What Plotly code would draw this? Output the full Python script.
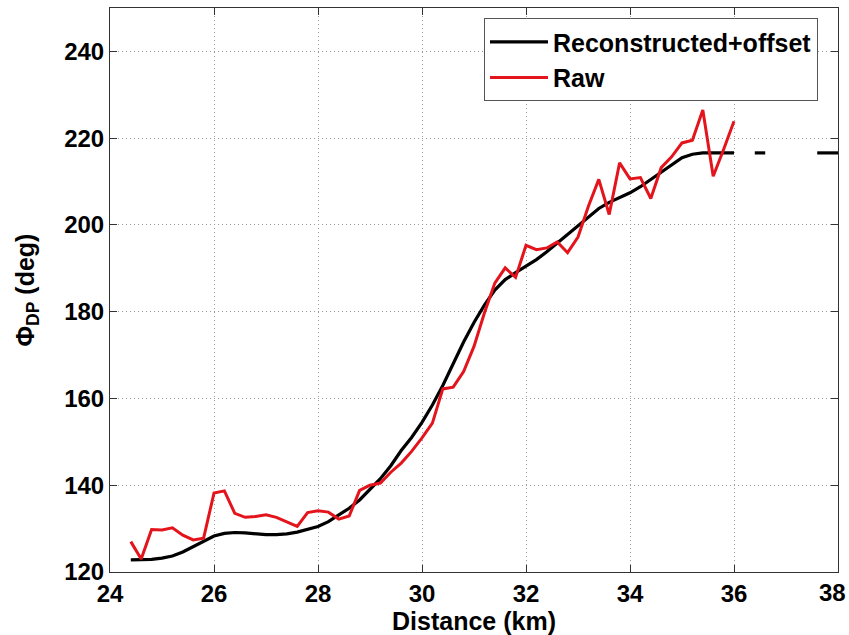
import numpy as np
import plotly.graph_objects as go

# Range samples every 0.2 km
distance_raw = [round(24.4 + 0.2 * i, 1) for i in range(59)]  # 24.4 .. 36.0
phidp_raw = [
    127.0, 123.0, 129.8, 129.7, 130.2, 128.5, 127.4, 127.8, 138.2, 138.7,
    133.5, 132.6, 132.8, 133.2, 132.6, 131.6, 130.5, 133.7, 134.1, 133.8,
    132.2, 132.9, 138.8, 140.0, 140.5, 143.0, 145.1, 147.8, 150.9, 154.3,
    162.2, 162.6, 166.2, 172.0, 179.7, 186.6, 190.1, 187.9, 195.3, 194.3,
    194.7, 196.1, 193.6, 197.2, 204.3, 210.5, 202.4, 214.3, 210.6, 210.9,
    206.1, 213.2, 215.7, 218.9, 219.5, 226.5, 211.2, 217.4, 223.9,
]

distance_rec = [round(24.4 + 0.2 * i, 1) for i in range(69)]  # 24.4 .. 38.0
phidp_rec = [
    122.8, 122.8, 122.9, 123.2, 123.7, 124.6, 125.9, 127.2, 128.3, 128.9,
    129.1, 129.0, 128.8, 128.6, 128.6, 128.8, 129.2, 129.8, 130.5, 131.6,
    133.2, 134.7, 136.6, 139.0, 141.5, 144.5, 148.0, 151.0, 154.5, 158.5,
    163.0, 168.0, 173.0, 177.5, 181.5, 185.0, 187.4, 189.0, 190.5, 192.0,
    193.8, 195.8, 197.8, 200.0, 202.0, 203.8, 205.2, 206.3, 207.4, 208.8,
    210.5, 212.3, 214.0, 215.5, 216.3, 216.6, 216.6, 216.6, 216.6, None,
    216.6, 216.6, None, None, None, None, 216.6, 216.6, 216.6,
]

x_ticks = [24, 26, 28, 30, 32, 34, 36, 38]
y_ticks = [120, 140, 160, 180, 200, 220, 240]

# the last x label sits on the page edge; it is drawn right-aligned separately
x_ticktext = [str(v) for v in x_ticks[:-1]] + [""]

FONT = "Liberation Sans, Arial, Helvetica, sans-serif"
TICK_FONT = dict(family=FONT, size=24, color="black", weight="bold")

fig = go.Figure()
fig.add_trace(go.Scatter(
    x=distance_rec, y=phidp_rec, mode="lines", name="Reconstructed+offset",
    line=dict(color="black", width=3.2), connectgaps=False,
))
fig.add_trace(go.Scatter(
    x=distance_raw, y=phidp_raw, mode="lines", name="Raw",
    line=dict(color="rgb(228,20,28)", width=3),
))

axis_common = dict(
    showline=True, linecolor="#333333", linewidth=1, mirror="ticks",
    ticks="inside", ticklen=7, tickwidth=1, tickcolor="#333333",
    showgrid=True, gridcolor="#9a9a9a", griddash="1px,3px", gridwidth=1,
    zeroline=False, automargin=False,
    tickfont=TICK_FONT,
)

fig.update_xaxes(
    range=[24, 38], tickvals=x_ticks, ticktext=x_ticktext,
    title=dict(text="Distance (km)", standoff=4,
               font=dict(family=FONT, size=25, color="black", weight="bold")),
    **axis_common,
)
fig.update_yaxes(
    range=[120, 250], tickvals=y_ticks, ticktext=[str(v) for v in y_ticks],
    title=dict(text="Φ<sub>DP</sub> (deg)", standoff=22,
               font=dict(family=FONT, size=25, color="black", weight="bold")),
    **axis_common,
)

fig.add_annotation(
    x=x_ticks[-1], xref="x", y=0, yref="paper",
    text=str(x_ticks[-1]), showarrow=False,
    xanchor="right", yanchor="middle", xshift=10, yshift=-20,
    font=TICK_FONT,
)

fig.update_layout(
    width=849, height=635,
    margin=dict(l=110, r=11, t=8, b=63),
    paper_bgcolor="white", plot_bgcolor="white",
    font=dict(family=FONT, color="black"),
    legend=dict(
        x=0.9725, y=0.982, xanchor="right", yanchor="top",
        bgcolor="white", bordercolor="#555555", borderwidth=1,
        font=dict(family=FONT, size=25, color="black", weight="bold"),
        tracegroupgap=0, itemwidth=58,
    ),
    showlegend=True,
)

fig.write_html("out.html")
